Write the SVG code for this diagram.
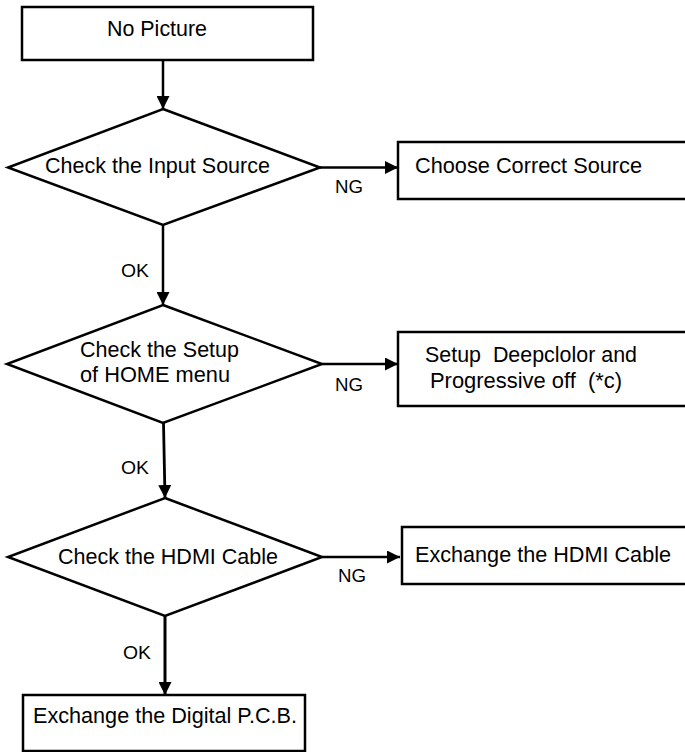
<svg xmlns="http://www.w3.org/2000/svg" width="685" height="752" viewBox="0 0 685 752">
<style>
.shape{fill:#fff;stroke:#000;stroke-width:2.5}
.t{font-family:"Liberation Sans",Arial,sans-serif;font-size:21.5px;fill:#000}
.lbl{font-family:"Liberation Sans",Arial,sans-serif;font-size:18px;fill:#000}
.c{stroke:#000;fill:none}
</style>
<defs>
<marker id="ah" viewBox="0 0 13 13" refX="13" refY="6.5" markerWidth="13" markerHeight="13" markerUnits="userSpaceOnUse" orient="auto">
<path d="M0,0 L13,6.5 L0,13 z" fill="#000"/>
</marker>
</defs>
<rect width="685" height="752" fill="#fff"/>
<g id="connectors">
<line class="c" x1="163" y1="60" x2="163" y2="109" stroke-width="2.5" marker-end="url(#ah)"/>
<line class="c" x1="320" y1="167.5" x2="398" y2="167.5" stroke-width="2.5" marker-end="url(#ah)"/>
<line class="c" x1="163" y1="225" x2="163" y2="305" stroke-width="2.5" marker-end="url(#ah)"/>
<line class="c" x1="322" y1="364" x2="398" y2="364" stroke-width="2.5" marker-end="url(#ah)"/>
<line class="c" x1="163.5" y1="423" x2="165" y2="498" stroke-width="2.8" marker-end="url(#ah)"/>
<line class="c" x1="322" y1="557" x2="400" y2="557" stroke-width="2.5" marker-end="url(#ah)"/>
<line class="c" x1="165" y1="616" x2="165" y2="695" stroke-width="3" marker-end="url(#ah)"/>
<text class="lbl" x="335" y="193" textLength="28" lengthAdjust="spacingAndGlyphs">NG</text>
<text class="lbl" x="121" y="277" textLength="28" lengthAdjust="spacingAndGlyphs">OK</text>
<text class="lbl" x="335" y="391" textLength="28" lengthAdjust="spacingAndGlyphs">NG</text>
<text class="lbl" x="121" y="474" textLength="28" lengthAdjust="spacingAndGlyphs">OK</text>
<text class="lbl" x="338" y="582" textLength="28" lengthAdjust="spacingAndGlyphs">NG</text>
<text class="lbl" x="123" y="659" textLength="28" lengthAdjust="spacingAndGlyphs">OK</text>
</g>
<g id="no-picture">
<rect class="shape" x="22" y="7" width="291" height="53"/>
<text class="t" x="107" y="36" textLength="100" lengthAdjust="spacingAndGlyphs">No Picture</text>
</g>
<g id="check-input">
<polygon class="shape" points="163,109 320,167.5 163,225 8,167.5"/>
<text class="t" x="45" y="173" textLength="225" lengthAdjust="spacingAndGlyphs">Check the Input Source</text>
</g>
<g id="choose-source">
<rect class="shape" x="398" y="142" width="300" height="57"/>
<text class="t" x="415" y="173" font-size="23.5" textLength="227" lengthAdjust="spacingAndGlyphs">Choose Correct Source</text>
</g>
<g id="check-setup">
<polygon class="shape" points="163,305 322,364 163,423 7,364"/>
<text class="t" x="80" y="357" textLength="159" lengthAdjust="spacingAndGlyphs">Check the Setup</text>
<text class="t" x="80" y="382" textLength="150" lengthAdjust="spacingAndGlyphs">of HOME menu</text>
</g>
<g id="setup-deepcolor">
<rect class="shape" x="398" y="332" width="300" height="74"/>
<text class="t" x="425" y="362" textLength="212" lengthAdjust="spacingAndGlyphs" xml:space="preserve">Setup  Deepclolor and</text>
<text class="t" x="430" y="388" textLength="192" lengthAdjust="spacingAndGlyphs" xml:space="preserve">Progressive off  (*c)</text>
</g>
<g id="check-hdmi">
<polygon class="shape" points="165,498 322,557 165,616 8,557"/>
<text class="t" x="58" y="564" textLength="220" lengthAdjust="spacingAndGlyphs">Check the HDMI Cable</text>
</g>
<g id="exchange-hdmi">
<rect class="shape" x="402" y="527" width="300" height="57"/>
<text class="t" x="415" y="562" textLength="256" lengthAdjust="spacingAndGlyphs">Exchange the HDMI Cable</text>
</g>
<g id="exchange-digital">
<rect class="shape" x="23" y="695" width="282" height="56"/>
<text class="t" x="33" y="723" textLength="264" lengthAdjust="spacingAndGlyphs">Exchange the Digital P.C.B.</text>
</g>
</svg>
